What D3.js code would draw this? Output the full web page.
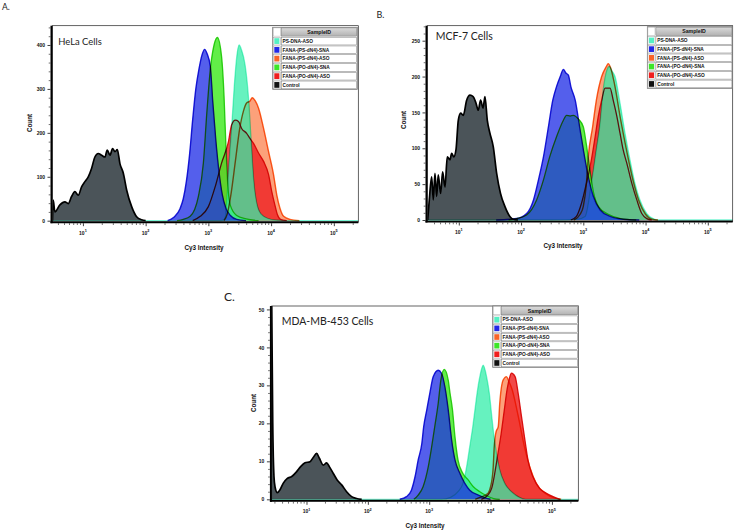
<!DOCTYPE html>
<html><head><meta charset="utf-8">
<script src="https://cdn.jsdelivr.net/npm/d3@7"></script>
<style>body{margin:0;background:#fff;} svg{display:block;}</style>
</head><body>
<svg id="chart" width="734" height="530"></svg>
<script>
// ---------- DATA (x = log10 of Cy3 intensity, y = count) ----------
const sampleIds = ["PS-DNA-ASO","FANA-(PS-dN4)-SNA","FANA-(PS-dN4)-ASO","FANA-(PO-dN4)-SNA","FANA-(PO-dN4)-ASO","Control"];
const cellTitles = ["HeLa Cells","MCF-7 Cells","MDA-MB-453 Cells"];
const panelLetters = ["A.","B.","C."];
const intensityTicks = [1e1,1e2,1e3,1e4,1e5];
const countTicksA = [0,100,200,300,400];
const countTicksB = [0,50,100,150,200,250];
const countTicksC = [0,10,20,30,40,50];

// HeLa
const helaPsDnaAso = [[0.51,0],[3.2,0],[3.25,3],[3.27,8],[3.29,40],[3.33,130],[3.37,210],[3.41,300],[3.45,370],[3.49,400],[3.53,388],[3.585,355],[3.64,280],[3.68,185],[3.72,95],[3.77,40],[3.84,15],[3.95,5],[4.1,1],[4.2,0],[5.39,0]];
const helaPsSna = [[2.35,0],[2.45,8],[2.55,28],[2.6,50],[2.65,90],[2.7,150],[2.75,230],[2.8,300],[2.85,345],[2.9,378],[2.94,390],[2.98,380],[3.03,352],[3.07,270],[3.12,180],[3.17,110],[3.22,60],[3.28,28],[3.35,12],[3.45,3],[3.6,0]];
const helaPsAso = [[3.25,0],[3.3,15],[3.36,60],[3.43,135],[3.5,210],[3.56,250],[3.61,268],[3.66,272],[3.7,280],[3.75,272],[3.8,256],[3.88,210],[3.96,157],[4.04,104],[4.09,59],[4.14,29],[4.2,10],[4.3,3],[4.45,0]];
const helaPoSna = [[2.5,0],[2.6,3],[2.71,10],[2.84,55],[2.92,131],[2.975,245],[3.03,343],[3.09,400],[3.144,417],[3.21,374],[3.25,283],[3.28,169],[3.31,80],[3.35,35],[3.45,12],[3.6,4],[3.8,0]];
const helaPoAso = [[2.75,0],[2.87,10],[3.0,32],[3.11,78],[3.21,131],[3.32,180],[3.37,218],[3.43,229],[3.48,226],[3.53,210],[3.61,199],[3.66,188],[3.72,176],[3.8,154],[3.88,135],[3.96,105],[4.01,67],[4.06,36],[4.1,14],[4.15,3],[4.25,0]];
const helaControl = [[0.515,0],[0.527,47],[0.553,20],[0.633,36],[0.713,43],[0.766,39],[0.819,55],[0.872,66],[0.926,58],[0.979,77],[1.032,89],[1.085,100],[1.138,119],[1.191,145],[1.245,153],[1.298,149],[1.351,145],[1.388,161],[1.431,149],[1.473,164],[1.511,157],[1.548,162],[1.59,130],[1.644,108],[1.697,70],[1.777,32],[1.856,9],[1.936,2],[2.0,0]];

// MCF-7
const mcfPsDnaAso = [[0.49,0],[2.5,0],[2.9,1],[3.03,5],[3.13,51],[3.21,98],[3.27,135],[3.32,181],[3.38,209],[3.42,214],[3.46,208],[3.51,200],[3.59,163],[3.67,121],[3.75,84],[3.83,51],[3.91,28],[4.02,9],[4.12,2],[4.2,0],[5.4,0]];
const mcfPsSna = [[1.6,0],[1.93,2],[2.09,9],[2.2,28],[2.28,56],[2.36,88],[2.44,130],[2.51,167],[2.57,186],[2.63,200],[2.68,210],[2.72,205],[2.76,202],[2.8,186],[2.87,167],[2.94,130],[3.0,98],[3.08,60],[3.16,33],[3.27,14],[3.43,5],[3.64,1],[3.9,0]];
const mcfPsAso = [[2.85,0],[2.95,8],[3.0,19],[3.05,51],[3.08,88],[3.15,130],[3.21,167],[3.295,200],[3.37,214],[3.4,218],[3.44,212],[3.5,190],[3.6,140],[3.7,95],[3.8,55],[3.9,25],[4.0,8],[4.1,1],[4.2,0]];
const mcfPoSna = [[1.8,0],[1.93,2],[2.09,7],[2.25,28],[2.36,56],[2.46,88],[2.57,116],[2.68,139],[2.73,146],[2.79,145],[2.84,146],[2.92,141],[3.0,130],[3.05,105],[3.11,67],[3.16,40],[3.25,18],[3.4,8],[3.6,2],[3.85,0]];
const mcfPoAso = [[2.8,0],[2.89,5],[2.97,23],[3.05,51],[3.13,84],[3.19,116],[3.24,144],[3.295,167],[3.35,184],[3.43,184],[3.48,167],[3.54,144],[3.59,121],[3.64,98],[3.7,79],[3.78,51],[3.86,28],[3.94,9],[4.02,2],[4.1,0]];
const mcfControl = [[0.5,0],[0.526,28],[0.564,60],[0.59,28],[0.617,65],[0.644,33],[0.67,63],[0.708,37],[0.74,67],[0.778,46],[0.815,88],[0.858,84],[0.885,93],[0.92,88],[0.955,98],[0.992,139],[1.03,149],[1.072,146],[1.126,167],[1.18,174],[1.23,172],[1.276,163],[1.313,153],[1.35,167],[1.39,156],[1.42,172],[1.458,139],[1.5,121],[1.554,102],[1.608,65],[1.67,37],[1.74,19],[1.82,5],[1.875,1],[1.95,0]];

// MDA-MB-453
const mdaPsDnaAso = [[0.433,0],[3.2,0],[3.35,0.5],[3.47,2],[3.55,4.2],[3.61,8.6],[3.66,13.8],[3.71,19.1],[3.745,23.5],[3.78,27.9],[3.825,32.3],[3.88,35.3],[3.935,32.3],[3.98,27.9],[4.015,22.6],[4.05,17.4],[4.095,12.1],[4.15,7.7],[4.23,4.2],[4.34,2],[4.47,0.5],[4.57,0],[5.43,0]];
const mdaPsSna = [[2.52,0],[2.63,0.7],[2.71,2.4],[2.77,6],[2.82,10.3],[2.88,14.7],[2.91,19.1],[2.96,23.5],[3.01,27.9],[3.065,32.3],[3.147,34],[3.2,33.2],[3.255,29.6],[3.31,23.5],[3.365,15.6],[3.42,10.3],[3.5,6.8],[3.58,4.2],[3.66,2.4],[3.8,1.1],[3.92,0.3],[4.0,0]];
const mdaPsAso = [[3.75,0],[3.83,0.5],[3.96,1.6],[4.0,3.3],[4.04,7.7],[4.06,13.8],[4.09,17.8],[4.125,19.1],[4.15,25.3],[4.205,31.4],[4.26,32.3],[4.3,31],[4.35,29],[4.45,22],[4.55,14],[4.65,8],[4.75,4],[4.9,1.5],[5.05,0.3],[5.15,0]];
const mdaPoSna = [[2.75,0],[2.82,1.1],[2.9,3.3],[2.985,8.6],[3.04,13.8],[3.09,19.1],[3.147,25.3],[3.19,31.4],[3.245,34.2],[3.31,31.4],[3.34,27.9],[3.38,23.5],[3.42,16.5],[3.47,10.3],[3.55,6.8],[3.635,5.1],[3.72,3.3],[3.825,2],[3.93,1],[4.05,0.2],[4.15,0]];
const mdaPoAso = [[3.85,0],[3.95,1],[4.02,3],[4.07,7],[4.12,12],[4.17,17],[4.22,23],[4.27,29],[4.31,32],[4.34,33.2],[4.4,32.3],[4.45,27.9],[4.505,21.7],[4.56,15.6],[4.61,10.3],[4.69,6],[4.8,2.9],[4.91,1.6],[5.02,0.7],[5.13,0]];
const mdaControl = [[0.433,52],[0.45,20],[0.47,6],[0.487,3.3],[0.525,1.75],[0.568,2.5],[0.62,4.2],[0.688,5.5],[0.76,6],[0.84,7.3],[0.905,8.6],[0.976,9.6],[1.057,9.9],[1.11,11],[1.165,12.1],[1.21,10.8],[1.274,9],[1.328,9.6],[1.372,8.6],[1.437,6.8],[1.5,5.1],[1.573,3.8],[1.654,2],[1.735,0.7],[1.817,0.2],[1.9,0]];

// ---------- STYLES ----------
const seriesStyle = [
  {fill:"#30eea8", op:0.74, stroke:"#7af5d4", sw:1.3, swatch:"#55f0c4"},
  {fill:"#1e2de6", op:0.76, stroke:"#1e1edc", sw:1.4, swatch:"#2228e6"},
  {fill:"#fa6e32", op:0.65, stroke:"#fa6420", sw:1.4, swatch:"#fa6428"},
  {fill:"#46eb28", op:0.85, stroke:"#3cd21e", sw:1.3, swatch:"#3ce628"},
  {fill:"#ee2828", op:0.85, stroke:"#e01818", sw:1.3, swatch:"#f01e1e"},
  {fill:"#4b5459", op:1.0,  stroke:"#000000", sw:1.7, swatch:"#111111"}
];
const drawOrder = [5,2,4,3,0,1];

const panels = [
  {letter:panelLetters[0], letterPos:[2,10,8.5], title:cellTitles[0], titlePos:[58.3,45,10,43.5],
   box:{l:52.3,r:358.3,t:25.7,b:220.7}, xExp:[0.512,5.39], yMax:443.9, yTicks:countTicksA, yMinor:20,
   series:[helaPsDnaAso,helaPsSna,helaPsAso,helaPoSna,helaPoAso,helaControl],
   legend:{x:272.7,y:27.3,w:84.6,h:62}, xLabel:[204,249.5], yLabel:[29.5,123]},
  {letter:panelLetters[1], letterPos:[376.5,18.3,9], title:cellTitles[1], titlePos:[435.7,40,11.5,57],
   box:{l:427.3,r:732.7,t:25.7,b:220}, xExp:[0.494,5.40], yMax:270.9, yTicks:countTicksB, yMinor:10,
   series:[mcfPsDnaAso,mcfPsSna,mcfPsAso,mcfPoSna,mcfPoAso,mcfControl],
   legend:{x:647.3,y:26.7,w:85.2,h:61.6}, xLabel:[563,248], yLabel:[403.5,120]},
  {letter:panelLetters[2], letterPos:[224,300.7,12], title:cellTitles[2], titlePos:[281.7,325,11.5,91.7],
   box:{l:271.7,r:578.3,t:306,b:499.3}, xExp:[0.433,5.43], yMax:50.9, yTicks:countTicksC, yMinor:2,
   series:[mdaPsDnaAso,mdaPsSna,mdaPsAso,mdaPoSna,mdaPoAso,mdaControl],
   legend:{x:492.7,y:306,w:85.6,h:61.3}, xLabel:[425,528], yLabel:[253.5,403]}
];

const svg = d3.select("#chart");
const defs = svg.append("defs");
const grad = defs.append("linearGradient").attr("id","hdr").attr("x1",0).attr("y1",0).attr("x2",0).attr("y2",1);
grad.append("stop").attr("offset","0%").attr("stop-color","#dadada");
grad.append("stop").attr("offset","100%").attr("stop-color","#b2b2b2");

const FONT = "'Liberation Sans', Arial, sans-serif";

panels.forEach((p,pi) => {
  const b = p.box;
  const x = d3.scaleLog().domain([10**p.xExp[0], 10**p.xExp[1]]).range([b.l,b.r]);
  const y = d3.scaleLinear().domain([0,p.yMax]).range([b.b,b.t]);
  const clipId = "clip"+pi;
  defs.append("clipPath").attr("id",clipId).append("rect")
    .attr("x",b.l).attr("y",b.t).attr("width",b.r-b.l).attr("height",b.b-b.t+1);

  const g = svg.append("g");
  g.append("text").attr("x",p.letterPos[0]).attr("y",p.letterPos[1]).attr("font-family","Lato, sans-serif")
    .attr("font-size",p.letterPos[2]).attr("fill","#222").text(p.letter);

  const area = d3.area().x(d=>x(10**d[0])).y0(y(0)).y1(d=>y(d[1])).curve(d3.curveMonotoneX);
  const line = d3.line().x(d=>x(10**d[0])).y(d=>y(d[1])).curve(d3.curveMonotoneX);

  // one clipped group: fills first, then strokes blended (multiply) onto the fills
  const plot = g.append("g").attr("clip-path",`url(#${clipId})`);
  plot.append("rect").attr("x",b.l).attr("y",b.t).attr("width",b.r-b.l).attr("height",b.b-b.t+1).attr("fill","#fff");
  drawOrder.forEach(i => {
    const s = seriesStyle[i];
    plot.append("path").datum(p.series[i]).attr("d",area)
      .attr("fill",s.fill).attr("fill-opacity",s.op).attr("stroke","none");
  });
  drawOrder.forEach(i => {
    const s = seriesStyle[i];
    plot.append("path").datum(p.series[i]).attr("d",line)
      .attr("fill","none").attr("stroke",s.stroke).attr("stroke-width",s.sw)
      .attr("stroke-linejoin","round").style("mix-blend-mode","multiply");
  });

  // frame
  g.append("rect").attr("x",b.l).attr("y",b.t).attr("width",b.r-b.l).attr("height",b.b-b.t+1.5)
    .attr("fill","none").attr("stroke","#222").attr("stroke-width",0.7);
  g.append("line").attr("x1",b.l-0.8).attr("x2",b.l-0.8).attr("y1",b.t).attr("y2",b.b+2.5)
    .attr("stroke","#000").attr("stroke-width",2);
  g.append("line").attr("x1",b.l-1.8).attr("x2",b.r).attr("y1",b.b+1.5).attr("y2",b.b+1.5)
    .attr("stroke","#000").attr("stroke-width",2);

  // y axis
  const yAx = g.append("g").attr("transform",`translate(${b.l-1.8},0)`)
    .call(d3.axisLeft(y).tickValues(p.yTicks).tickSize(3).tickPadding(2.5).tickFormat(d3.format("d")));
  yAx.select(".domain").remove();
  yAx.selectAll("text").attr("font-family",FONT).attr("font-weight","bold").attr("font-size",5).attr("fill","#111");
  yAx.selectAll("line").attr("stroke","#111").attr("stroke-width",0.8);
  const yMinorVals = d3.range(0,p.yMax,p.yMinor).filter(v=>!p.yTicks.includes(v));
  const yMin = g.append("g").attr("transform",`translate(${b.l-1.8},0)`)
    .call(d3.axisLeft(y).tickValues(yMinorVals).tickSize(1.8).tickFormat(""));
  yMin.select(".domain").remove();
  yMin.selectAll("line").attr("stroke","#111").attr("stroke-width",0.6);

  // x axis
  const xAx = g.append("g").attr("transform",`translate(0,${b.b+2.5})`)
    .call(d3.axisBottom(x).tickValues(intensityTicks).tickSize(3).tickFormat(""));
  xAx.select(".domain").remove();
  xAx.selectAll("line").attr("stroke","#111").attr("stroke-width",0.8);
  const xMinorVals = [];
  for (let e=0;e<=5;e++) for (let k=2;k<=9;k++){ const v=k*10**e; if (v>=10**p.xExp[0] && v<=10**p.xExp[1]) xMinorVals.push(v); }
  const xMin = g.append("g").attr("transform",`translate(0,${b.b+2.5})`)
    .call(d3.axisBottom(x).tickValues(xMinorVals).tickSize(1.8).tickFormat(""));
  xMin.select(".domain").remove();
  xMin.selectAll("line").attr("stroke","#111").attr("stroke-width",0.6);
  intensityTicks.forEach(v => {
    const t = g.append("text").attr("x",x(v)).attr("y",b.b+14).attr("text-anchor","middle")
      .attr("font-family",FONT).attr("font-weight","bold").attr("font-size",5).attr("fill","#111");
    t.append("tspan").text("10");
    t.append("tspan").attr("dy",-2.6).attr("font-size",3.8).text(String(Math.round(Math.log10(v))));
  });

  // axis titles
  g.append("text").attr("x",p.xLabel[0]).attr("y",p.xLabel[1]).attr("text-anchor","middle")
    .attr("font-family",FONT).attr("font-weight","bold").attr("font-size",6.3).attr("fill","#111").text("Cy3 Intensity");
  g.append("text").attr("transform",`translate(${p.yLabel[0]},${p.yLabel[1]}) rotate(-90)`).attr("text-anchor","middle")
    .attr("dy","0.35em").attr("font-family",FONT).attr("font-weight","bold").attr("font-size",6.3).attr("fill","#111").text("Count");

  // cell title
  g.append("text").attr("x",p.titlePos[0]).attr("y",p.titlePos[1]).attr("font-family","Lato, sans-serif")
    .attr("font-size",p.titlePos[2]).attr("textLength",p.titlePos[3]).attr("lengthAdjust","spacingAndGlyphs")
    .attr("fill","#222").text(p.title);

  // legend table
  const L = p.legend;
  const sw = 8.3, rh = (L.h-9.4)/6;
  const lg = g.append("g");
  lg.append("rect").attr("x",L.x).attr("y",L.y).attr("width",L.w).attr("height",L.h).attr("fill","#fff").attr("stroke","#666").attr("stroke-width",0.7);
  lg.append("rect").attr("x",L.x+0.6).attr("y",L.y+0.6).attr("width",sw-1.2).attr("height",9.4-1.2).attr("fill","#fff").attr("stroke","#999").attr("stroke-width",0.4);
  lg.append("rect").attr("x",L.x+sw+0.3).attr("y",L.y+0.6).attr("width",L.w-sw-0.9).attr("height",9.4-1.2).attr("fill","url(#hdr)").attr("stroke","#777").attr("stroke-width",0.5);
  lg.append("text").attr("x",L.x+sw+(L.w-sw)/2).attr("y",L.y+6.6).attr("text-anchor","middle")
    .attr("font-family",FONT).attr("font-weight","bold").attr("font-size",5.2).attr("fill","#111").text("SampleID");
  sampleIds.forEach((name,i) => {
    const ry = L.y + 9.4 + i*rh;
    lg.append("rect").attr("x",L.x+0.6).attr("y",ry+0.5).attr("width",sw-1.2).attr("height",rh-1).attr("fill","#fff").attr("stroke","#888").attr("stroke-width",0.4);
    lg.append("rect").attr("x",L.x+1.6).attr("y",ry+1.5).attr("width",sw-3.2).attr("height",rh-3).attr("fill",seriesStyle[i].swatch);
    lg.append("rect").attr("x",L.x+sw+0.3).attr("y",ry+0.5).attr("width",L.w-sw-0.9).attr("height",rh-1).attr("fill","#fff").attr("stroke","#777").attr("stroke-width",0.5);
    lg.append("text").attr("x",L.x+sw+1.6).attr("y",ry+rh/2+1.7)
      .attr("font-family",FONT).attr("font-weight","bold").attr("font-size",4.8).attr("fill","#111").text(name);
  });
});
</script>
</body></html>
